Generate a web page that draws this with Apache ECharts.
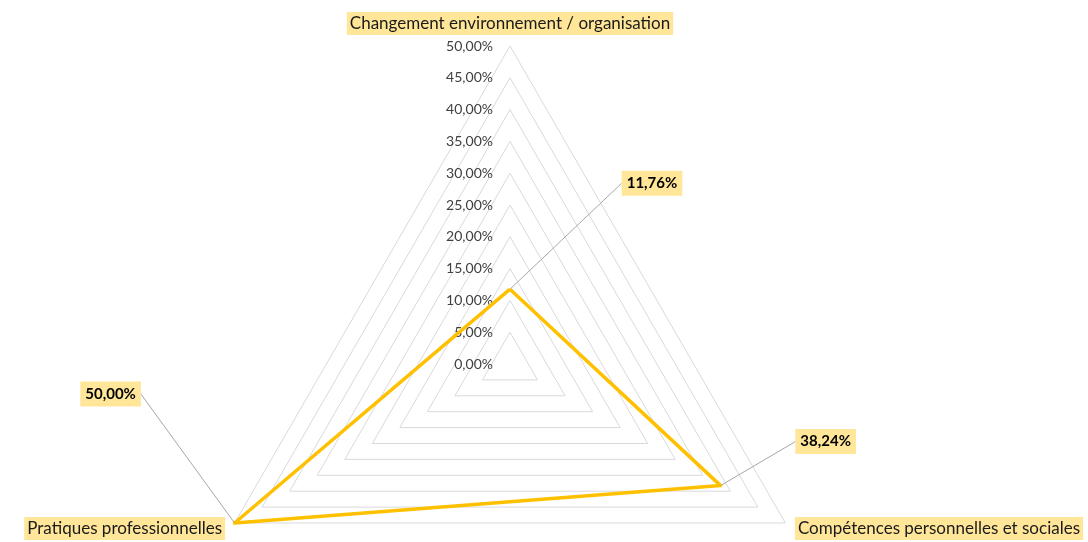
<!DOCTYPE html>
<html>
<head>
<meta charset="utf-8">
<script src="https://cdn.jsdelivr.net/npm/echarts@6/dist/echarts.min.js"></script>
<style>
html, body { margin: 0; padding: 0; background: #fff; }
#chart { width: 1088px; height: 542px; }
</style>
</head>
<body>
<div id="chart"></div>
<script>
// axes in ECharts order (counterclockwise, starting at the top)
const categories = ['Changement environnement / organisation', 'Pratiques professionnelles', 'Compétences personnelles et sociales']
const values = [11.76, 50.00, 38.24]
const axisMax = 50
const tickStep = 5

const fmt = (v) => v.toFixed(2).replace('.', ',') + '%'
const labelTexts = values.map(fmt)
// how far each data label is pulled away from its point
const labelShift = [[142, -106], [-124, -129], [105, -44]]

const chart = echarts.init(document.getElementById('chart'))
chart.setOption({
  animation: false,
  textStyle: { fontFamily: 'Lato' },
  radar: {
    center: [510, 364],
    radius: 318,
    startAngle: 90,
    shape: 'polygon',
    splitNumber: axisMax / tickStep,
    indicator: categories.map((name, i) => ({ name, min: 0, max: axisMax, axisLabel: { show: i === 0 } })),
    axisName: { color: '#1a1a1a', fontSize: 17, backgroundColor: '#FFE699', padding: [3, 3] },
    nameGap: 11,
    axisLine: { show: false },
    axisTick: { show: false },
    axisLabel: { show: true, color: '#404040', fontSize: 14, formatter: fmt, margin: 17 },
    splitLine: { lineStyle: { color: '#d9d9d9', width: 1 } },
    splitArea: { show: false },
  },
  series: [{
    type: 'radar',
    symbol: 'circle',
    symbolSize: 1,
    lineStyle: { color: '#FFC000', width: 3.5 },
    itemStyle: { color: '#FFC000' },
    data: [{ value: values }],
    label: {
      show: true,
      position: 'inside',
      formatter: (p) => fmt(p.value),
      color: '#000',
      fontWeight: 'bold',
      fontSize: 15,
      backgroundColor: '#FFE699',
      padding: [5, 5],
    },
    labelLayout: (p) => {
      const s = labelShift[labelTexts.indexOf(p.text)] || [0, 0]
      return { dx: s[0], dy: s[1] }
    },
    labelLine: { show: true, lineStyle: { color: '#a6a6a6', width: 1 } },
  }],
})
</script>
</body>
</html>
